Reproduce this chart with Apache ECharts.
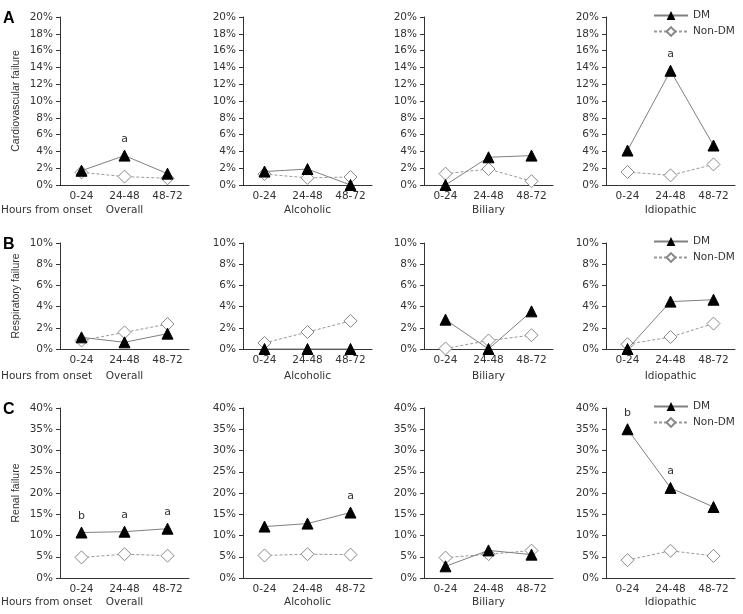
<!DOCTYPE html>
<html><head><meta charset="utf-8">
<script src="https://cdn.jsdelivr.net/npm/echarts@6/dist/echarts.min.js"></script>
<style>html,body{margin:0;padding:0;background:#fff}#c{width:743px;height:614px}</style>
</head><body><div id="c"></div>
<script>
// ---- data ----
const categories = ['0-24', '24-48', '48-72'];
const panelNames = ['Overall', 'Alcoholic', 'Biliary', 'Idiopathic'];
const rowTitles = ['Cardiovascular failure', 'Respiratory failure', 'Renal failure'];
const rowLetters = ['A', 'B', 'C'];
const yMaxes = [20, 10, 40];
const ySteps = [2, 2, 5];
const seriesNames = ['DM', 'Non-DM'];
const xTitle = 'Hours from onset';

// Cardiovascular failure (%), per panel: Overall, Alcoholic, Biliary, Idiopathic
const cardioDM    = [[1.7, 3.5, 1.35], [1.6, 1.9, 0], [0, 3.3, 3.5], [4.1, 13.6, 4.7]];
const cardioNonDM = [[1.5, 1.0, 0.8], [1.3, 0.85, 0.95], [1.35, 1.9, 0.45], [1.55, 1.15, 2.45]];
const cardioNotes = [['', 'a', ''], ['', '', ''], ['', '', ''], ['', 'a', '']];

// Respiratory failure (%)
const respDM    = [[1.1, 0.63, 1.45], [0, 0, 0], [2.77, 0, 3.55], [0, 4.47, 4.65]];
const respNonDM = [[0.8, 1.57, 2.35], [0.57, 1.6, 2.65], [0.05, 0.8, 1.3], [0.45, 1.13, 2.4]];
const respNotes = [['', '', ''], ['', '', ''], ['', '', ''], ['', '', '']];

// Renal failure (%)
const renalDM    = [[10.7, 10.9, 11.6], [12.1, 12.8, 15.4], [2.75, 6.5, 5.5], [35, 21.2, 16.7]];
const renalNonDM = [[4.85, 5.6, 5.25], [5.3, 5.6, 5.5], [4.8, 5.6, 6.45], [4.2, 6.4, 5.2]];
const renalNotes = [['b', 'a', 'a'], ['', '', 'a'], ['', '', ''], ['b', 'a', '']];

const rowsDM = [cardioDM, respDM, renalDM];
const rowsNonDM = [cardioNonDM, respNonDM, renalNonDM];
const rowsNotes = [cardioNotes, respNotes, renalNotes];

// ---- layout ----
const colLeft = [60, 243, 424, 606];
const colWidth = 129;
const rowTop = [17, 243, 408];
const rowHeight = [168, 106, 170];
const nameGaps = [20, 22, 19];

const tickFont = 'DejaVu Sans';
const textColor = '#333';
const axisColor = '#333';

const grids = [], xAxes = [], yAxes = [], series = [], legends = [], graphics = [];
let gi = 0;
for (let r = 0; r < 3; r++) {
  for (let c = 0; c < 4; c++) {
    grids.push({ left: colLeft[c], top: rowTop[r], width: colWidth, height: rowHeight[r] });
    xAxes.push({
      type: 'category', gridIndex: gi, data: categories, boundaryGap: true,
      name: panelNames[c], nameLocation: 'middle', nameGap: nameGaps[r],
      nameTextStyle: { fontFamily: tickFont, fontSize: 10.5, color: textColor },
      axisLine: { lineStyle: { color: axisColor, width: 1 } },
      axisTick: { inside: true, length: 5, lineStyle: { color: axisColor } },
      axisLabel: { fontFamily: tickFont, fontSize: 10.5, color: textColor, margin: 6 },
      splitLine: { show: false }
    });
    yAxes.push({
      type: 'value', gridIndex: gi, min: 0, max: yMaxes[r], interval: ySteps[r],
      name: c === 0 ? rowTitles[r] : '', nameLocation: 'middle', nameGap: 38,
      nameTextStyle: { fontFamily: 'Liberation Sans', fontSize: 10.5, color: textColor },
      axisLine: { show: true, lineStyle: { color: axisColor, width: 1 } },
      axisTick: { show: true, inside: false, length: 4, lineStyle: { color: axisColor } },
      axisLabel: { fontFamily: tickFont, fontSize: 10.5, color: textColor, margin: 7, formatter: '{value}%' },
      splitLine: { show: false }
    });
    const notes = rowsNotes[r][c];
    series.push({
      name: 'Non-DM', type: 'line', xAxisIndex: gi, yAxisIndex: gi, clip: false,
      data: rowsNonDM[r][c], symbol: 'diamond', symbolSize: 13,
      lineStyle: { color: '#999', width: 1, type: [3, 2] },
      itemStyle: { color: '#fff', borderColor: '#888', borderWidth: 1 },
      z: 2
    });
    series.push({
      name: 'DM', type: 'line', xAxisIndex: gi, yAxisIndex: gi, clip: false,
      data: rowsDM[r][c].map((v, i) => ({
        value: v,
        label: { show: notes[i] !== '', formatter: notes[i], position: 'top', distance: 5,
                 fontFamily: tickFont, fontSize: 11, color: textColor }
      })),
      symbol: 'triangle', symbolSize: 11,
      lineStyle: { color: '#808080', width: 1 },
      itemStyle: { color: '#000', borderColor: '#000' },
      z: 3
    });
    gi++;
  }
  legends.push({
    orient: 'vertical', left: 653, top: rowTop[r] - 7, data: seriesNames,
    itemWidth: 34, itemHeight: 11, itemGap: 5, padding: 0,
    textStyle: { fontFamily: tickFont, fontSize: 10.5, color: textColor },
    selectedMode: false
  });
  graphics.push({
    type: 'text', left: 3, top: rowTop[r] - 6,
    style: { text: rowLetters[r], font: 'bold 16px Liberation Sans', fill: '#000' }
  });
  graphics.push({
    type: 'text', left: 1, top: rowTop[r] + rowHeight[r] + nameGaps[r],
    style: { text: xTitle, font: '10.5px DejaVu Sans', fill: textColor }
  });
}

const chart = echarts.init(document.getElementById('c'), null, { renderer: 'canvas' });
chart.setOption({
  animation: false,
  backgroundColor: '#fff',
  grid: grids, xAxis: xAxes, yAxis: yAxes, series: series,
  legend: legends, graphic: graphics
});
</script></body></html>
